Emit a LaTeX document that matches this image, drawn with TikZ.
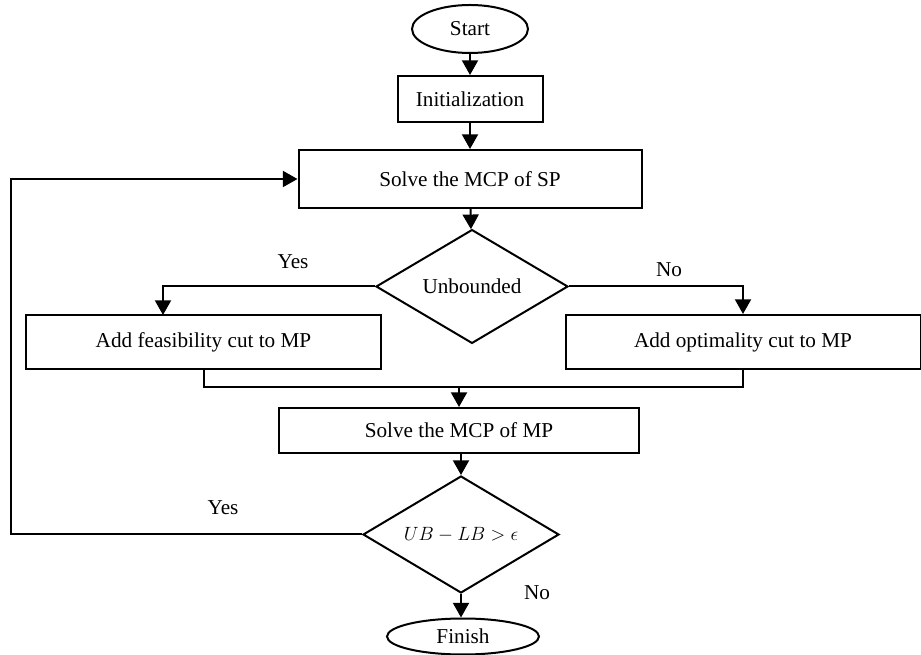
\documentclass[tikz,border=0pt]{standalone}
\usepackage{fontspec}
\setmainfont{Liberation Serif}
\usetikzlibrary{shapes.geometric,arrows.meta}
\begin{document}
\begin{tikzpicture}[x=0.75pt,y=-0.75pt,
  every node/.style={font=\fontsize{15.9}{19}\selectfont},
  box/.style={draw,line width=1.5pt,rectangle,inner sep=0pt},
  term/.style={draw,line width=1.5pt,ellipse,inner sep=0pt},
  decide/.style={draw,line width=1.5pt,diamond,inner sep=0pt},
  conn/.style={line width=1.5pt},
  arr/.style={line width=1.5pt,-{Triangle[width=12pt,length=11pt]}},
  lbl/.style={inner sep=0pt}]
\useasboundingbox (0,0) rectangle (921,655);
\node[term,minimum width=87pt,minimum height=36pt] (start) at (470,29) {Start};
\node[box,minimum width=108.75pt,minimum height=34.5pt] (init) at (470,99) {Initialization};
\node[box,minimum width=257.25pt,minimum height=43.5pt] (sp) at (470,179) {Solve the MCP of SP};
\node[decide,minimum width=144pt,minimum height=83pt] (unb) at (472,286.5) {Unbounded};
\node[box,minimum width=266.25pt,minimum height=40.5pt] (feas) at (203.5,342) {Add feasibility cut to MP};
\node[box,minimum width=266.25pt,minimum height=40.5pt] (opt) at (743,342) {Add optimality cut to MP};
\node[box,minimum width=270pt,minimum height=33.75pt] (mp) at (459,430.5) {Solve the MCP of MP};
\node[decide,minimum width=147pt,minimum height=87.75pt] (gap) at (461,534.5) {};
\node[lbl,font=\fontsize{14}{17}\selectfont] (gaptext) at (gap.center) {$UB-LB>\epsilon$};
\node[term,minimum width=114pt,minimum height=27pt] (fin) at (463,636.5) {Finish};
\node[lbl] (yes1) at (293,262) {Yes};
\node[lbl] (no1) at (669,270) {No};
\node[lbl] (yes2) at (223,508) {Yes};
\node[lbl] (no2) at (537,593) {No};
\coordinate (yesdrop) at (163,315);
\coordinate (merge) at (459,387.5);
\coordinate (loop) at (11,534.5);
\draw[arr] (start) -- (init);
\draw[arr] (init) -- (sp);
\draw[arr] (sp) -- (unb);
\draw[arr] (unb.west) -| (yesdrop);
\draw[arr] (unb.east) -| (opt.north);
\draw[conn] (feas.south) |- (merge);
\draw[conn] (opt.south) |- (merge);
\draw[arr] (merge) -- (mp.north);
\draw[arr] (mp.south -| gap.north) -- (gap.north);
\draw[arr] (gap.west) -- (loop) |- (sp.west);
\draw[arr] (gap.south) -- (gap.south |- fin.north);
\end{tikzpicture}
\end{document}
